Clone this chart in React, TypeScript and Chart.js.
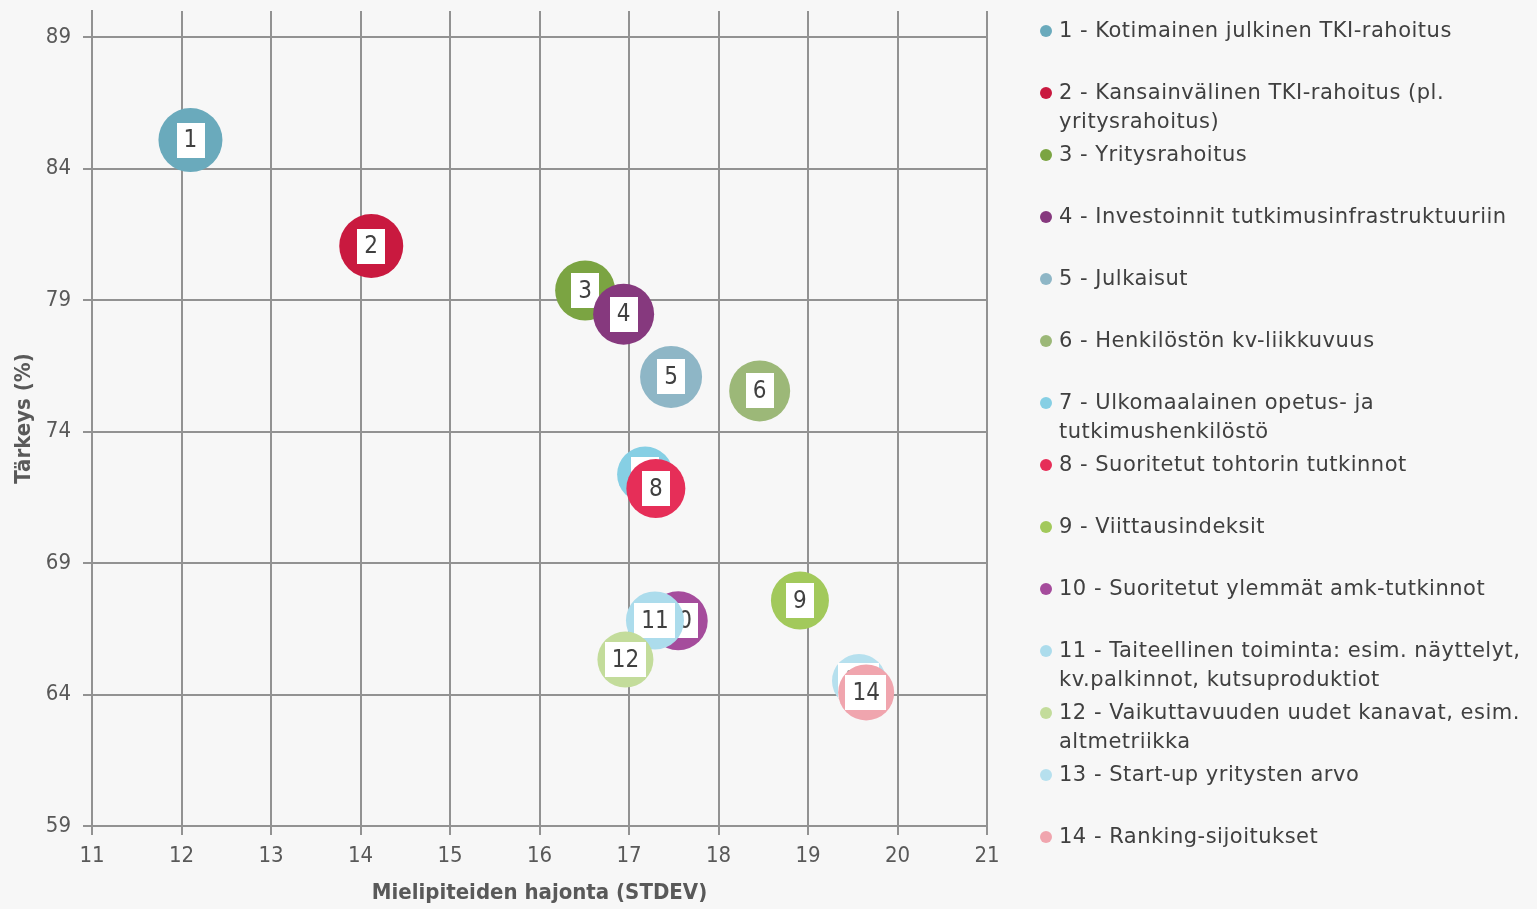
import React, { useEffect, useRef } from "react";
import { Chart, registerables } from "chart.js";

Chart.register(...registerables);

// ---- data ----
const itemNumbers = ["1", "2", "3", "4", "5", "6", "7", "8", "9", "10", "11", "12", "13", "14"];
const itemLabels = [
  "1 - Kotimainen julkinen TKI-rahoitus",
  "2 - Kansainvälinen TKI-rahoitus (pl.\nyritysrahoitus)",
  "3 - Yritysrahoitus",
  "4 - Investoinnit tutkimusinfrastruktuuriin",
  "5 - Julkaisut",
  "6 - Henkilöstön kv-liikkuvuus",
  "7 - Ulkomaalainen opetus- ja\ntutkimushenkilöstö",
  "8 - Suoritetut tohtorin tutkinnot",
  "9 - Viittausindeksit",
  "10 - Suoritetut ylemmät amk-tutkinnot",
  "11 - Taiteellinen toiminta: esim. näyttelyt,\nkv.palkinnot, kutsuproduktiot",
  "12 - Vaikuttavuuden uudet kanavat, esim.\naltmetriikka",
  "13 - Start-up yritysten arvo",
  "14 - Ranking-sijoitukset",
];
const stdevValues = [12.1, 14.12, 16.51, 16.94, 17.47, 18.46, 17.18, 17.3, 18.91, 17.55, 17.29, 16.96, 19.57, 19.65];
const importanceValues = [85.09, 81.06, 79.37, 78.47, 76.08, 75.55, 72.37, 71.84, 67.58, 66.81, 66.82, 65.33, 64.52, 64.08];
const bubbleSizes = [32, 32, 30, 30.5, 31, 30.5, 28, 29.5, 29, 29.5, 29, 28, 27, 28];
const itemColors = [
  "#6aaabc", "#c9193f", "#7ba442", "#86397e", "#8eb6c6", "#9cb878", "#86cfe4",
  "#e62e58", "#a2c95b", "#a54c9c", "#acdcec", "#c3dc9b", "#b6e0ee", "#f0a5ae",
];
const xTickValues = [11, 12, 13, 14, 15, 16, 17, 18, 19, 20, 21];
const yTickValues = [59, 64, 69, 74, 79, 84, 89];
const xAxisTitle = "Mielipiteiden hajonta (STDEV)";
const yAxisTitle = "Tärkeys (%)";

// ---- styles ----
const FONT = '"DejaVu Sans Condensed", "DejaVu Sans", sans-serif';
const LEGEND_FONT = '"DejaVu Sans", sans-serif';
const GRID = "#929292";
const TEXT = "#595959";
const BG = "#f7f7f7";

const zeroPadding = () => ({ left: 0, top: 0, right: 0, bottom: 0 });

const bubbleLabelPlugin = {
  id: "bubbleLabels",
  afterDatasetDraw(chart: any, args: any) {
    const el = args.meta.data[0];
    if (!el) return;
    const text = itemNumbers[args.index];
    const ctx = chart.ctx;
    ctx.save();
    ctx.font = `24px ${FONT}`;
    const w = ctx.measureText(text).width + 14;
    const h = 35;
    ctx.fillStyle = "#ffffff";
    ctx.fillRect(Math.round(el.x - w / 2), Math.round(el.y - h / 2), Math.round(w), h);
    ctx.fillStyle = "#404040";
    ctx.textAlign = "center";
    ctx.textBaseline = "middle";
    ctx.fillText(text, el.x, el.y + 1);
    ctx.restore();
  },
};

export default function App() {
  const canvasRef = useRef<HTMLCanvasElement | null>(null);

  useEffect(() => {
    document.body.style.margin = "0";
    document.body.style.background = BG;
    const canvas = canvasRef.current;
    if (!canvas) return;
    const n = itemNumbers.length;
    const chart = new Chart(canvas, {
      type: "bubble",
      data: {
        datasets: itemNumbers.map((num, i) => ({
          label: itemLabels[i],
          data: [{ x: stdevValues[i], y: importanceValues[i], r: bubbleSizes[i] }],
          backgroundColor: itemColors[i],
          borderColor: itemColors[i],
          borderWidth: 0,
          order: n - i,
        })),
      },
      options: {
        responsive: false,
        animation: false,
        events: [],
        layout: { autoPadding: false, padding: { top: 11, right: 550, left: 0, bottom: 0 } },
        plugins: {
          legend: { display: false },
          tooltip: { enabled: false },
        },
        scales: {
          x: {
            type: "linear",
            min: 11,
            max: 21,
            afterBuildTicks: (s: any) => {
              s.ticks = xTickValues.map((v) => ({ value: v }));
            },
            afterFit: (s: any) => {
              s.height = 83;
              s.paddingLeft = 0;
              s.paddingRight = 0;
              s.paddingTop = 0;
              s.paddingBottom = 0;
              s.getPadding = zeroPadding;
            },
            grid: { color: GRID, lineWidth: 2, tickLength: 9, drawTicks: true },
            border: { color: GRID, width: 2 },
            ticks: { font: { size: 22, family: FONT }, color: TEXT, padding: 8, maxRotation: 0 },
            title: {
              display: true,
              text: xAxisTitle,
              color: TEXT,
              font: { size: 22, weight: "bold", family: FONT },
              padding: { top: 0, bottom: 3 },
            },
          },
          y: {
            type: "linear",
            min: 59,
            max: 90,
            afterBuildTicks: (s: any) => {
              s.ticks = yTickValues.map((v) => ({ value: v }));
            },
            afterFit: (s: any) => {
              s.width = 92;
              s.paddingLeft = 0;
              s.paddingRight = 0;
              s.paddingTop = 0;
              s.paddingBottom = 0;
              s.getPadding = zeroPadding;
            },
            grid: { color: GRID, lineWidth: 2, tickLength: 9, drawTicks: true },
            border: { color: GRID, width: 2 },
            ticks: { font: { size: 22, family: FONT }, color: TEXT, padding: 12 },
            title: {
              display: true,
              text: yAxisTitle,
              color: TEXT,
              font: { size: 22, weight: "bold", family: FONT },
              padding: { top: 11, bottom: 0 },
            },
          },
        },
      },
      plugins: [bubbleLabelPlugin],
    } as any);
    return () => chart.destroy();
  }, []);

  return (
    <div style={{ position: "relative", width: 1537, height: 909, background: BG, overflow: "hidden" }}>
      <canvas ref={canvasRef} width={1537} height={909} style={{ display: "block" }} />
      <div style={{ position: "absolute", left: 1040, top: 16, width: 497, fontFamily: LEGEND_FONT }}>
        {itemLabels.map((label, i) => (
          <div key={i} style={{ position: "absolute", left: 0, top: i * 62, display: "flex", alignItems: "flex-start" }}>
            <span
              style={{
                display: "inline-block",
                flex: "0 0 auto",
                width: 12,
                height: 12,
                borderRadius: 6,
                background: itemColors[i],
                marginTop: 9,
              }}
            />
            <span
              style={{
                marginLeft: 7,
                whiteSpace: "pre",
                lineHeight: "29px",
                fontSize: 21,
                letterSpacing: "0.5px",
                color: "#404040",
              }}
            >
              {label}
            </span>
          </div>
        ))}
      </div>
    </div>
  );
}
